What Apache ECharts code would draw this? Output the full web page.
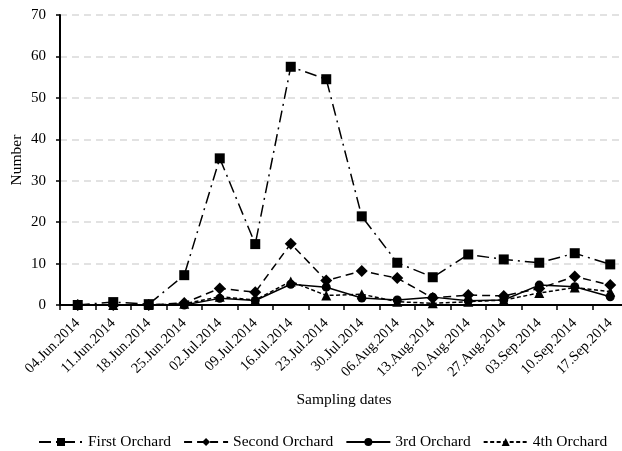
<!DOCTYPE html>
<html><head><meta charset="utf-8">
<script src="https://cdn.jsdelivr.net/npm/echarts@6/dist/echarts.min.js"></script>
<style>html,body{margin:0;padding:0;background:#fff}#c{width:622px;height:451px}</style>
</head><body><div id="c"></div>
<script>
const categories = ['04.Jun.2014','11.Jun.2014','18.Jun.2014','25.Jun.2014','02.Jul.2014','09.Jul.2014','16.Jul.2014','23.Jul.2014','30.Jul.2014','06.Aug.2014','13.Aug.2014','20.Aug.2014','27.Aug.2014','03.Sep.2014','10.Sep.2014','17.Sep.2014'];
const firstOrchard  = [0, 0.7, 0.2, 7.2, 35.4, 14.7, 57.5, 54.5, 21.4, 10.2, 6.7, 12.2, 11.0, 10.2, 12.5, 9.8];
const secondOrchard = [0, 0, 0, 0.5, 4.0, 3.1, 14.8, 5.9, 8.2, 6.5, 1.7, 2.4, 2.2, 4.0, 6.9, 4.8];
const thirdOrchard  = [0, 0, 0, 0, 1.6, 1.1, 5.0, 4.3, 1.7, 1.2, 1.9, 1.0, 1.2, 4.8, 4.4, 2.0];
const fourthOrchard = [0, 0, 0, 0.3, 2.0, 1.2, 5.7, 2.3, 2.6, 0.8, 0.4, 0.8, 1.2, 2.9, 4.2, 3.2];
const yTicks = {min: 0, max: 70, interval: 10};

const font = 'Liberation Serif';
const chart = echarts.init(document.getElementById('c'), null, {renderer: 'canvas'});
function s(name, data, symbol, size, type) {
  return {
    name, type: 'line', data, symbol, symbolSize: size,
    itemStyle: {color: '#000'},
    lineStyle: {color: '#000', width: 1.5, type},
    animation: false
  };
}
chart.setOption({
  animation: false,
  textStyle: {fontFamily: font},
  grid: {left: 60, top: 15, bottom: 146, width: 568, containLabel: false, outerBoundsMode: 'none'},
  legend: {
    bottom: -4, left: 33, itemWidth: 44, itemHeight: 10, itemGap: 12,
    textStyle: {fontFamily: font, fontSize: 15.5, color: '#000'},
    data: ['First Orchard', 'Second Orchard', '3rd Orchard', '4th Orchard']
  },
  xAxis: {
    type: 'category', data: categories, boundaryGap: true,
    name: 'Sampling dates', nameLocation: 'middle', nameGap: 87, nameMoveOverlap: false,
    nameTextStyle: {fontFamily: font, fontSize: 15.5, color: '#000'},
    axisLine: {lineStyle: {color: '#000', width: 2}},
    axisTick: {show: true, length: 5, lineStyle: {color: '#000', width: 1.5}},
    axisLabel: {rotate: 45, fontFamily: font, fontSize: 14.5, color: '#000', margin: 16, interval: 0},
    splitLine: {show: false}
  },
  yAxis: {
    type: 'value', min: yTicks.min, max: yTicks.max, interval: yTicks.interval,
    name: 'Number', nameLocation: 'middle', nameGap: 35, nameRotate: 90, nameMoveOverlap: false,
    nameTextStyle: {fontFamily: font, fontSize: 15.5, color: '#000'},
    axisLine: {show: true, lineStyle: {color: '#000', width: 2}},
    axisTick: {show: true, length: 4, lineStyle: {color: '#000', width: 1.5}},
    axisLabel: {fontFamily: font, fontSize: 15, color: '#000', margin: 14},
    splitLine: {show: true, lineStyle: {color: '#d9d9d9', width: 1.5, type: [7, 5]}}
  },
  series: [
    s('First Orchard', firstOrchard, 'rect', 10, [12, 5, 2, 5]),
    s('Second Orchard', secondOrchard, 'diamond', 12, [8, 5]),
    s('3rd Orchard', thirdOrchard, 'circle', 9, 'solid'),
    s('4th Orchard', fourthOrchard, 'triangle', 10, [4, 2.5])
  ]
});
</script></body></html>
